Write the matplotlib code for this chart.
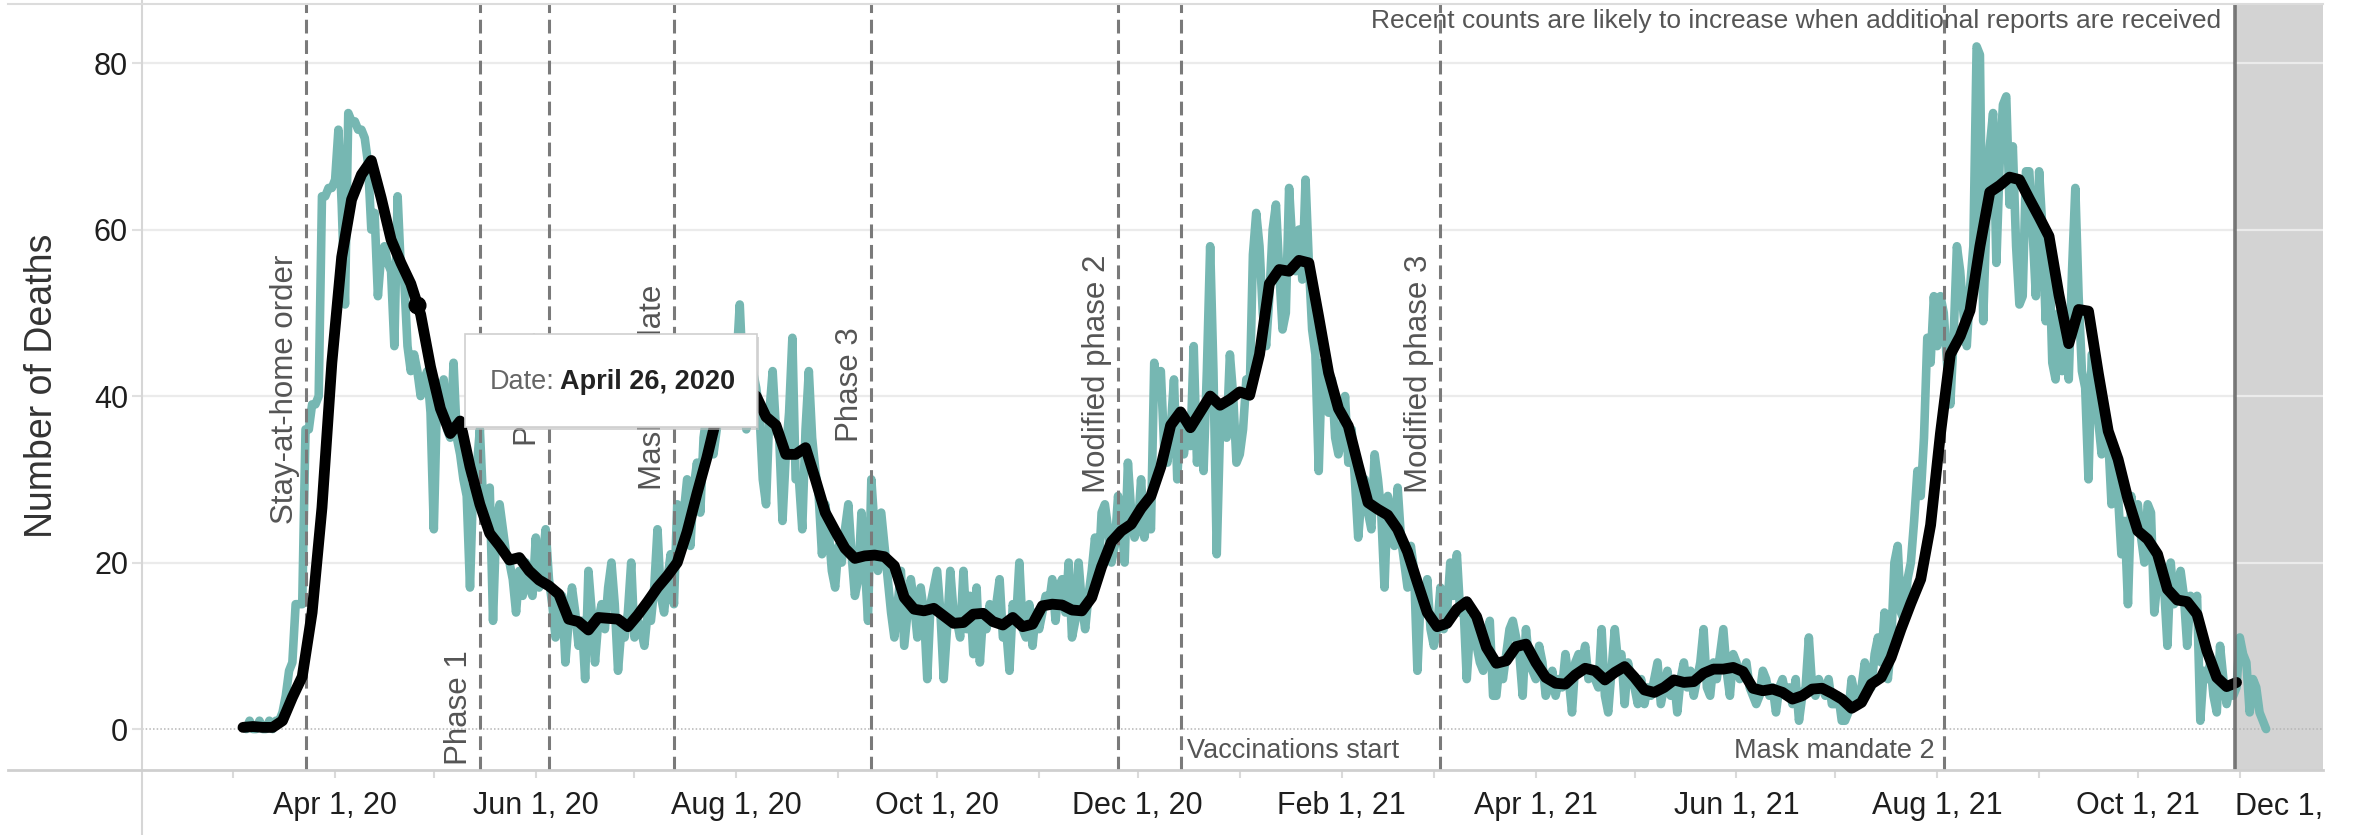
import matplotlib
matplotlib.use("Agg")
import matplotlib.pyplot as plt
import matplotlib.dates as mdates
import matplotlib.transforms as mtransforms
from matplotlib.patches import Rectangle
from matplotlib.lines import Line2D
from matplotlib.ticker import FuncFormatter, FixedLocator
import pandas as pd

plt.rcParams['font.family'] = ['Liberation Sans', 'DejaVu Sans']

W, H, DPI = 2356, 835, 100

# ---------------- data: daily deaths (teal) ----------------
mar_2020 = [0, 1, 0, 0, 1, 0, 0, 1, 0, 1, 1, 2, 4, 7, 8, 15, 15, 15, 36, 36, 39, 39, 40, 64, 64, 65, 65]
apr_2020 = [66, 72, 63, 51, 74, 73, 73, 72, 72, 71, 68, 60, 62, 52, 57, 58, 56, 55, 46, 64,
            55, 54, 46, 43, 45, 43, 40, 42, 43, 38]
may_2020 = [24, 40, 38, 42, 36, 35, 44, 35, 33, 30, 28, 17, 30, 31, 36, 27, 26, 29, 13, 25,
            27, 24, 21, 20, 18, 14, 19, 16, 20, 17, 16]
jun_2020 = [23, 17, 20, 24, 18, 15, 11, 14, 16, 8, 13, 17, 14, 10, 13, 6, 19, 14, 8, 13,
            15, 12, 17, 20, 15, 7, 12, 11, 14, 20]
jul_2020 = [11, 13, 12, 10, 14, 13, 17, 24, 16, 14, 18, 21, 15, 27, 22, 26, 30, 22, 29, 32,
            26, 35, 38, 40, 33, 36, 44, 42, 39, 46, 38]
aug_2020 = [44, 51, 42, 36, 40, 43, 41, 38, 30, 27, 38, 43, 36, 35, 25, 33, 38, 47, 30, 30,
            24, 36, 43, 35, 31, 28, 21, 27, 24, 19, 17]
sep_2020 = [22, 20, 24, 27, 21, 16, 18, 26, 20, 13, 30, 24, 19, 26, 22, 18, 14, 11, 15, 19,
            10, 14, 18, 15, 11, 17, 14, 6, 15, 17]
oct_2020 = [19, 14, 6, 12, 19, 14, 13, 11, 19, 12, 16, 9, 17, 8, 14, 12, 15, 13, 15, 18,
            11, 12, 7, 15, 13, 20, 12, 11, 15, 10, 14]
nov_2020 = [12, 14, 16, 15, 18, 13, 17, 18, 14, 20, 11, 13, 20, 15, 12, 16, 19, 23, 18, 26,
            27, 24, 20, 22, 28, 25, 20, 32, 26, 23]
dec_2020 = [24, 30, 23, 26, 24, 44, 41, 43, 34, 32, 36, 42, 30, 38, 33, 36, 34, 46, 32, 38,
            31, 43, 58, 43, 21, 36, 39, 35, 45, 40, 32]
jan_2021 = [33, 36, 42, 40, 57, 62, 58, 50, 46, 52, 60, 63, 55, 48, 50, 65, 58, 55, 60, 54,
            66, 56, 48, 45, 31, 44, 40, 38, 42, 35, 33]
feb_2021 = [35, 40, 32, 36, 30, 23, 28, 30, 26, 24, 33, 30, 26, 17, 28, 26, 22, 29, 23, 20,
            17, 22, 19, 7, 16, 14, 18, 12]
mar_2021 = [10, 12, 17, 12, 14, 20, 16, 21, 14, 15, 6, 12, 14, 10, 8, 7, 11, 13, 4, 4,
            8, 6, 9, 12, 13, 11, 9, 4, 12, 8, 7]
apr_2021 = [6, 10, 8, 4, 5, 7, 4, 6, 5, 9, 6, 2, 8, 9, 8, 10, 6, 7, 6, 5,
            12, 4, 2, 7, 12, 8, 9, 3, 8, 6]
may_2021 = [5, 3, 6, 3, 5, 4, 6, 8, 3, 5, 7, 4, 6, 2, 6, 8, 5, 7, 4, 6,
            8, 12, 5, 4, 8, 6, 9, 12, 7, 4, 9]
jun_2021 = [8, 6, 7, 8, 5, 4, 3, 4, 7, 6, 4, 5, 2, 5, 6, 4, 5, 3, 6, 1,
            4, 5, 11, 5, 4, 6, 5, 4, 6, 3]
jul_2021 = [3, 4, 1, 1, 2, 6, 4, 3, 5, 8, 6, 5, 9, 11, 8, 14, 6, 10, 20, 22,
            14, 13, 18, 20, 25, 31, 28, 35, 47, 44, 52]
aug_2021 = [46, 52, 50, 44, 39, 47, 58, 55, 50, 46, 53, 58, 82, 81, 49, 62, 70, 74, 56, 68,
            75, 76, 63, 70, 58, 51, 52, 67, 67, 60, 52]
sep_2021 = [67, 60, 49, 58, 44, 42, 50, 43, 46, 42, 55, 65, 52, 43, 41, 30, 45, 41, 37, 33,
            38, 35, 27, 33, 28, 21, 25, 15, 28, 24]
oct_2021 = [27, 23, 20, 27, 26, 14, 18, 20, 17, 10, 20, 15, 17, 19, 16, 10, 16, 14, 16, 1,
            7, 6, 8, 4, 2, 10, 6, 3, 5, 4, 5]
nov_2021 = [11, 9, 8, 2, 6, 5, 2, 1, 0]

daily_months = [
    ("2020-03-05", mar_2020), ("2020-04-01", apr_2020), ("2020-05-01", may_2020),
    ("2020-06-01", jun_2020), ("2020-07-01", jul_2020), ("2020-08-01", aug_2020),
    ("2020-09-01", sep_2020), ("2020-10-01", oct_2020), ("2020-11-01", nov_2020),
    ("2020-12-01", dec_2020), ("2021-01-01", jan_2021), ("2021-02-01", feb_2021),
    ("2021-03-01", mar_2021), ("2021-04-01", apr_2021), ("2021-05-01", may_2021),
    ("2021-06-01", jun_2021), ("2021-07-01", jul_2021), ("2021-08-01", aug_2021),
    ("2021-09-01", sep_2021), ("2021-10-01", oct_2021), ("2021-11-01", nov_2021),
]

# ---------------- data: 7-day average (black), every 3 days ----------------
avg_start = "2020-03-04"
avg_step_days = 3
avg_7day = [
    0.2, 0.3, 0.2, 0.2, 1.0, 3.8, 6.3, 14, 26.6, 44,
    56.7, 63.6, 66.6, 68.3, 63.8, 58.8, 56, 53.5, 49.8, 43.5,
    38.5, 35.5, 37, 31.5, 27, 23.5, 22, 20.3, 20.6, 19,
    17.9, 17.2, 16.2, 13.2, 12.9, 11.9, 13.4, 13.3, 13.2, 12.3,
    13.7, 15.3, 17, 18.4, 20, 23.7, 28.3, 32.6, 37.5, 39.5,
    40.5, 40.8, 40, 37.5, 36.5, 33, 33, 33.8, 30, 26,
    23.8, 21.7, 20.5, 20.8, 20.9, 20.7, 19.6, 15.8, 14.4, 14.2,
    14.5, 13.6, 12.7, 12.8, 13.8, 13.9, 12.9, 12.5, 13.4, 12.3,
    12.6, 14.8, 15, 14.9, 14.3, 14.2, 15.8, 19.5, 22.5, 23.8,
    24.6, 26.5, 28, 31.5, 36.5, 38.1, 36.2, 38.1, 40, 38.9,
    39.6, 40.5, 40.1, 45, 53.5, 55.2, 55, 56.3, 56, 49.5,
    42.8, 38.5, 36.4, 31.7, 27.2, 26.4, 25.7, 24, 21.3, 17.6,
    14, 12.3, 12.7, 14.4, 15.3, 13.5, 9.8, 7.9, 8.2, 9.9,
    10.2, 8, 6.2, 5.5, 5.4, 6.5, 7.3, 7, 5.9, 6.8,
    7.5, 6.2, 4.7, 4.4, 5, 5.9, 5.6, 5.7, 6.7, 7.2,
    7.2, 7.4, 6.9, 4.9, 4.6, 4.8, 4.4, 3.6, 4, 4.8,
    4.9, 4.3, 3.6, 2.5, 3.2, 5.4, 6.2, 8.6, 12, 15.1,
    18, 24.5, 35.5, 45, 47.2, 50.3, 58, 64.5, 65.3, 66.3,
    66, 63.7, 61.5, 59.2, 52.2, 46.3, 50.4, 50.2, 42.7, 35.8,
    32.4, 27.6, 23.8, 22.8, 21, 16.8, 15.5, 15.3, 13.8, 9.4,
    6.2, 5.1, 5.6,
]

# ---------------- events ----------------
event_names = ["Stay-at-home order", "Phase 1", "Phase 2", "Mask mandate", "Phase 3",
               "Modified phase 2", "Vaccinations start", "Modified phase 3", "Mask mandate 2"]
event_dates = ["2020-03-23", "2020-05-15", "2020-06-05", "2020-07-13", "2020-09-11",
               "2020-11-25", "2020-12-14", "2021-03-03", "2021-08-03"]
recent_cutoff = "2021-10-30 12:00"
recent_note = "Recent counts are likely to increase when additional reports are received"

hover_date = "2020-04-26"
hover_value = 51
tooltip_label = "Date:"
tooltip_value = "April 26, 2020"

y_ticks = [0, 20, 40, 60, 80]
y_label = "Number of Deaths"

# ---------------- figure ----------------
fig = plt.figure(figsize=(W / DPI, H / DPI), dpi=DPI)
fig.patch.set_facecolor("white")

AX_L, AX_R, AX_T, AX_B = 142, 2323, 4, 770
ax = fig.add_axes([AX_L / W, 1 - AX_B / H, (AX_R - AX_L) / W, (AX_B - AX_T) / H])
ax.set_facecolor("white")
for s in ax.spines.values():
    s.set_visible(False)

x_left = pd.Timestamp("2020-02-02 07:00")
x_right = pd.Timestamp("2021-11-26 07:00")
ax.set_xlim(x_left, x_right)
ax.set_ylim(-4.92, 87.1)

cut = pd.Timestamp(recent_cutoff)
ax.axvspan(cut, x_right, color="#d3d3d3", lw=0, zorder=0.2)

for v in y_ticks[1:]:
    ax.axhline(v, color="#ebebeb", lw=1.6, zorder=0.5)
ax.axhline(0, color="#b5b5b5", lw=1.1, ls=(0, (1, 1.4)), zorder=0.5)

# daily series
dates = pd.DatetimeIndex([])
values = []
for start, vals in daily_months:
    dates = dates.append(pd.date_range(start, periods=len(vals), freq="D"))
    values.extend(vals)
ax.plot(dates, values, color="#76b7b2", lw=6.2, solid_joinstyle="round",
        solid_capstyle="round", zorder=2)

# event lines
ev_dates = [pd.Timestamp(d) for d in event_dates]
for d in ev_dates:
    ax.axvline(d, color="#7a7a7a", lw=2.2, ls=(0, (4.5, 2.2)), zorder=3)

# 7-day average
avg_dates = pd.date_range(avg_start, periods=len(avg_7day), freq=f"{avg_step_days}D")
ax.plot(avg_dates, avg_7day, color="black", lw=7.8, solid_joinstyle="round",
        solid_capstyle="round", zorder=4)
ax.plot([pd.Timestamp(hover_date)], [hover_value], "o", color="black", ms=12, zorder=4.5)

ax.axvline(cut, color="#6a6a6a", lw=2.6, alpha=0.9, zorder=5)

# event labels
lbl_color = "#555555"
rot_bottom = {"Stay-at-home order": 24.6, "Phase 1": -4.3, "Phase 2": 34.0,
              "Mask mandate": 28.7, "Phase 3": 34.5, "Modified phase 2": 28.3,
              "Modified phase 3": 28.3}
left_shift = mtransforms.offset_copy(ax.transData, fig=fig, x=-6, y=0, units="dots")
right_shift = mtransforms.offset_copy(ax.transData, fig=fig, x=6, y=0, units="dots")
for name, d in zip(event_names, ev_dates):
    if name in rot_bottom:
        ax.text(d, rot_bottom[name], name, rotation=90, ha="right", va="bottom",
                fontsize=22.5, color=lbl_color, transform=left_shift, zorder=6)
    elif name == "Vaccinations start":
        ax.text(d, -2.64, name, ha="left", va="center", fontsize=19.5,
                color=lbl_color, transform=right_shift, zorder=6)
    else:
        ax.text(d, -2.64, name, ha="right", va="center", fontsize=19.5,
                color=lbl_color, transform=mtransforms.offset_copy(
                    ax.transData, fig=fig, x=-9, y=0, units="dots"), zorder=6)

ax.text(cut, 85.0, recent_note, ha="right", va="center", fontsize=19, color=lbl_color,
        transform=mtransforms.offset_copy(ax.transData, fig=fig, x=-14, y=0, units="dots"),
        zorder=6)

# axes ticks
ax.xaxis.set_major_locator(mdates.MonthLocator(bymonth=[2, 4, 6, 8, 10, 12]))
ax.xaxis.set_minor_locator(mdates.MonthLocator())
ax.xaxis.set_major_formatter(FuncFormatter(
    lambda x, pos: (lambda d: f"{d.strftime('%b')} {d.day}, {d.strftime('%y')}")(mdates.num2date(x))))
ax.tick_params(axis="x", which="both", length=6, width=1.5, color="#dadada",
               labelsize=22, labelcolor="#1e1e1e", pad=9)
ax.yaxis.set_major_locator(FixedLocator(y_ticks))
ax.tick_params(axis="y", which="major", length=7, width=1.5, color="#e0e0e0",
               labelsize=22, labelcolor="#1e1e1e", pad=3)

dec_lbl = fig.text(2235 / W, 1 - 807 / H, "Dec 1, 21", ha="left", va="center", fontsize=22,
                   color="#1e1e1e")
dec_lbl.set_clip_box(mtransforms.Bbox.from_extents(0, 0, AX_R, H))
dec_lbl.set_clip_on(True)

fig.text(42 / W, 1 - 386 / H, y_label, rotation=90, ha="center", va="center",
         fontsize=27, color="#333333")

# frame lines
fig.add_artist(Line2D([AX_L / W, AX_L / W], [0, 1], color="#d6d6d6", lw=1.5))
fig.add_artist(Line2D([8 / W, AX_R / W], [1 - AX_B / H] * 2, color="#cfcfcf", lw=2))
fig.add_artist(Line2D([8 / W, AX_R / W], [1 - AX_T / H] * 2, color="#dcdcdc", lw=1.5))

# tooltip
tx0, ty0, tw, th = 465, 334, 292, 93
fig.add_artist(Rectangle(((tx0 + 2) / W, 1 - (ty0 + th + 3) / H), tw / W, th / H,
                         transform=fig.transFigure, facecolor="#bdbdbd", edgecolor="none",
                         alpha=0.6, zorder=20))
fig.add_artist(Rectangle((tx0 / W, 1 - (ty0 + th) / H), tw / W, th / H,
                         transform=fig.transFigure, facecolor="white", edgecolor="#cfcfcf",
                         lw=1.2, zorder=21))
t1 = fig.text(490 / W, 1 - 382 / H, tooltip_label, ha="left", va="center", fontsize=19.5,
              color="#666666", zorder=22)
renderer = fig.canvas.get_renderer()
bb = t1.get_window_extent(renderer)
fig.text((bb.x1 + 5) / W, 1 - 382 / H, tooltip_value, ha="left", va="center", fontsize=19.5,
         fontweight="bold", color="#222222", zorder=22)

fig.savefig("out.png", dpi=DPI)
